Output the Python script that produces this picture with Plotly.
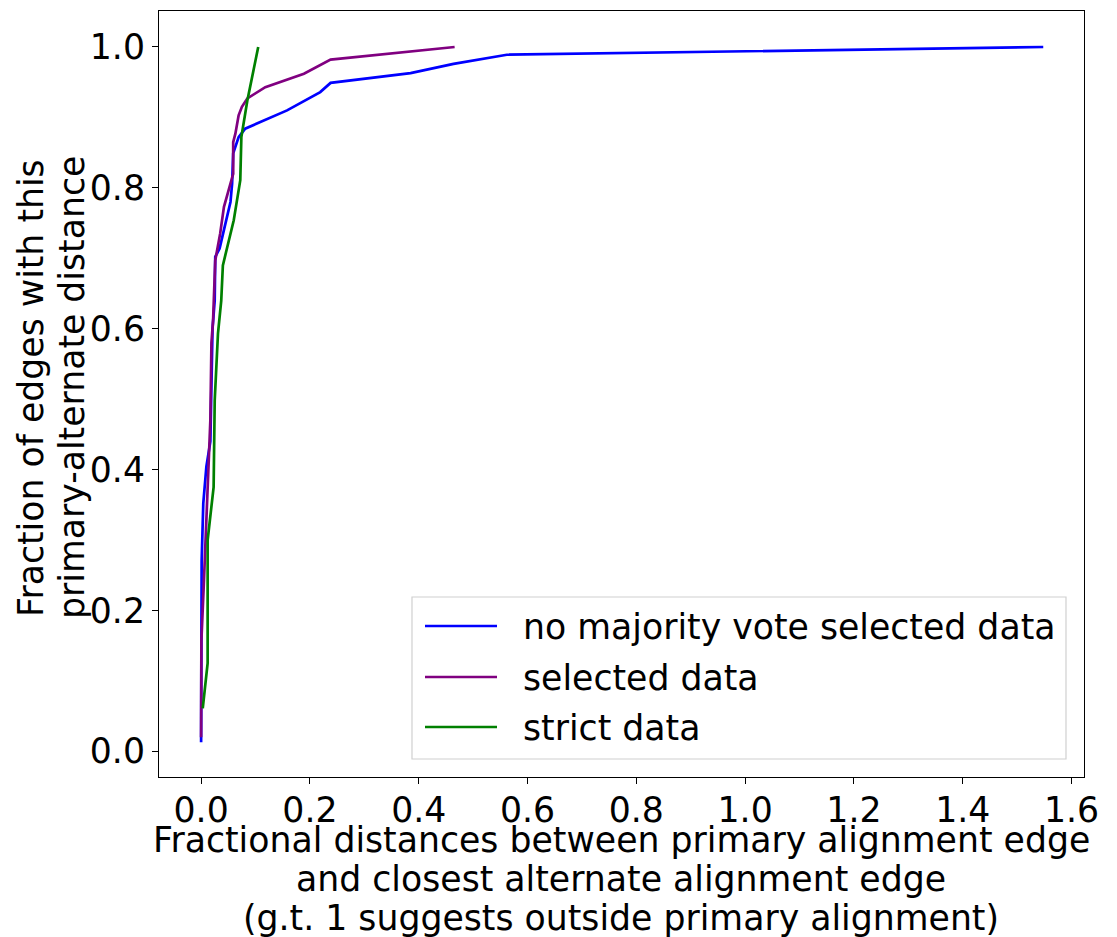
import plotly.graph_objects as go

# ---- data ----
blue_x = [0.0, 0.0, 0.001, 0.004, 0.0097, 0.017, 0.021, 0.025, 0.026, 0.034, 0.054, 0.057,
          0.059, 0.069, 0.081, 0.158, 0.219, 0.238, 0.385, 0.464, 0.562, 1.548]
blue_y = [0.013, 0.15, 0.27, 0.352, 0.404, 0.44, 0.60, 0.64, 0.702, 0.714, 0.78, 0.806,
          0.849, 0.872, 0.884, 0.91, 0.936, 0.949, 0.963, 0.976, 0.989, 1.0]

purple_x = [0.0, 0.0005, 0.005, 0.011, 0.017, 0.019, 0.022, 0.026, 0.035, 0.042, 0.054, 0.059,
            0.059, 0.063, 0.069, 0.075, 0.085, 0.118, 0.189, 0.238, 0.466]
purple_y = [0.02, 0.157, 0.238, 0.356, 0.47, 0.58, 0.612, 0.697, 0.735, 0.773, 0.806, 0.82,
            0.865, 0.877, 0.903, 0.915, 0.927, 0.943, 0.962, 0.982, 1.0]

green_x = [0.003, 0.012, 0.012, 0.023, 0.025, 0.031, 0.037, 0.040, 0.060, 0.072, 0.074, 0.085, 0.105]
green_y = [0.061, 0.125, 0.30, 0.375, 0.498, 0.593, 0.64, 0.69, 0.754, 0.811, 0.872, 0.924, 1.0]

series_names = ["no majority vote selected data", "selected data", "strict data"]
series_colors = ["#0000ff", "#800080", "#008000"]

x_ticks = [0.0, 0.2, 0.4, 0.6, 0.8, 1.0, 1.2, 1.4, 1.6]
y_ticks = [0.0, 0.2, 0.4, 0.6, 0.8, 1.0]

x_title_lines = ["Fractional distances between primary alignment edge",
                 "and closest alternate alignment edge",
                 "(g.t. 1 suggests outside primary alignment)"]
y_title_lines = ["Fraction of edges with this", "primary-alternate distance"]

FONT = "DejaVu Sans"
FS = 34.7

# plot-area geometry (pixels) used to place the hand-drawn legend and titles
W, H = 1117, 937
PL, PR, PT, PB = 159, 1084, 11, 777
PW, PH = PR - PL, PB - PT


def px2x(p):
    return (p - PL) / PW


def px2y(p):
    return (PB - p) / PH


fig = go.Figure()
for xs, ys, name, col in zip([blue_x, purple_x, green_x], [blue_y, purple_y, green_y],
                             series_names, series_colors):
    fig.add_trace(go.Scatter(x=xs, y=ys, mode="lines", name=name, showlegend=False,
                             line=dict(color=col, width=2.7)))

axis_common = dict(showgrid=False, zeroline=False, showline=True, linecolor="black",
                   linewidth=1.2, mirror=True, ticks="outside", ticklen=6, tickwidth=1.2,
                   tickcolor="black", tickfont=dict(family=FONT, size=FS, color="black"))

shapes = []
annotations = []

# legend box
shapes.append(dict(type="rect", xref="paper", yref="paper",
                   x0=px2x(412), x1=px2x(1066), y0=px2y(759), y1=px2y(597),
                   line=dict(color="#d0d0d0", width=1.2), fillcolor="rgba(255,255,255,0.8)",
                   layer="above"))
row_y = [626, 677, 727]
for name, col, ry in zip(series_names, series_colors, row_y):
    shapes.append(dict(type="line", xref="paper", yref="paper",
                       x0=px2x(425), x1=px2x(497), y0=px2y(ry), y1=px2y(ry),
                       line=dict(color=col, width=2.7), layer="above"))
    annotations.append(dict(text=name, xref="paper", yref="paper", x=px2x(521), y=px2y(ry + 1),
                            xanchor="left", yanchor="middle", showarrow=False,
                            font=dict(family=FONT, size=FS, color="black")))

# x-axis title (three lines)
for line, cy in zip(x_title_lines, [840, 879, 918]):
    annotations.append(dict(text=line, xref="paper", yref="paper", x=px2x(621), y=px2y(cy),
                            xanchor="center", yanchor="middle", showarrow=False,
                            font=dict(family=FONT, size=FS, color="black")))

# y-axis title (two lines, rotated)
for line, cx in zip(y_title_lines, [31, 72]):
    annotations.append(dict(text=line, xref="paper", yref="paper", x=px2x(cx), y=px2y(388),
                            xanchor="center", yanchor="middle", textangle=-90, showarrow=False,
                            font=dict(family=FONT, size=FS, color="black")))

fig.update_layout(
    width=W, height=H,
    margin=dict(l=PL, r=W - PR, t=PT, b=H - PB),
    paper_bgcolor="white", plot_bgcolor="white",
    font=dict(family=FONT, color="black"),
    xaxis=dict(range=[-0.0774, 1.6229], tickvals=x_ticks, ticklabelstandoff=-4,
               ticktext=[f"{v:.1f}" for v in x_ticks], **axis_common),
    yaxis=dict(range=[-0.0365, 1.0511], tickvals=y_ticks,
               ticktext=[f"{v:.1f}" for v in y_ticks], **axis_common),
    shapes=shapes,
    annotations=annotations,
    showlegend=False,
)

fig.write_html("out.html")
